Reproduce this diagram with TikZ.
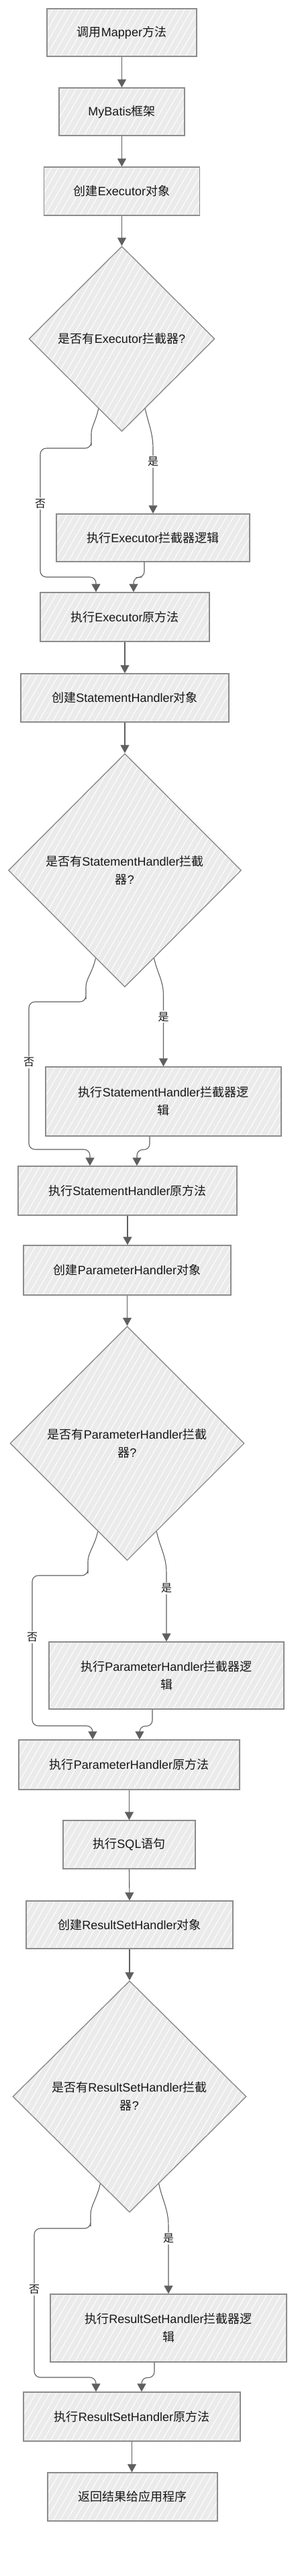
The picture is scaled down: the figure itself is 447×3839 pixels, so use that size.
\documentclass[tikz,border=0pt]{standalone}
\usepackage{fontspec}
\setmainfont{Liberation Sans}
\newfontfamily\cjk{Noto Sans CJK SC}
\usetikzlibrary{shapes.geometric,arrows.meta,calc,patterns.meta}
\newcommand\zh[1]{{\cjk #1}}
\definecolor{boxfill}{HTML}{EBEBEB}
\definecolor{bordergray}{HTML}{8C8C8C}
\definecolor{arrowgray}{HTML}{5F5F5F}
\definecolor{textcol}{HTML}{161616}
\begin{document}
\begin{tikzpicture}[x=1pt,y=-1pt,
  shapebase/.style={draw=bordergray, line width=1.4pt, preaction={fill=boxfill},
    pattern={Lines[angle=60,distance=9pt,line width=1pt]}, pattern color=white,
    inner sep=0pt, align=center, font=\fontsize{18}{27}\selectfont, text=textcol},
  box/.style={shapebase, rectangle},
  dia/.style={shapebase, diamond},
  arr/.style={draw=arrowgray, line width=1.1pt, -{Triangle[width=13pt,length=12pt]}},
  elbow/.style={arr, rounded corners=9pt},
  lbl/.style={fill=white, inner sep=2pt, font=\cjk\fontsize{16}{16}\selectfont, text=textcol}
]
\useasboundingbox[fill=white] (0,0) rectangle (447,3839);

% ---------- nodes ----------
\node[box, minimum width=223pt, minimum height=71pt] (b1) at (181.5,48.5) {\zh{调用}Mapper\zh{方法}};
\node[box, minimum width=187pt, minimum height=71pt] (b2) at (181.5,166.5) {MyBatis\zh{框架}};
\node[box, minimum width=232pt, minimum height=72pt] (b3) at (181.5,285) {\zh{创建}Executor\zh{对象}};
\node[dia, minimum width=277pt, minimum height=276pt] (d1) at (181.5,505) {\zh{是否有}Executor\zh{拦截器}?};
\node[box, minimum width=288pt, minimum height=71pt] (b4) at (228,801.5) {\zh{执行}Executor\zh{拦截器逻辑}};
\node[box, minimum width=252pt, minimum height=73pt] (b5) at (186,919.5) {\zh{执行}Executor\zh{原方法}};

\node[box, minimum width=310pt, minimum height=72pt] (b6) at (186,1040) {\zh{创建}StatementHandler\zh{对象}};
\node[dia, minimum width=347pt, minimum height=348pt] (d2) at (186,1297) {\zh{是否有}StatementHandler\zh{拦截}\\\zh{器}?};
\node[box, minimum width=351pt, minimum height=103pt] (b7) at (243.5,1641.5) {\zh{执行}StatementHandler\zh{拦截器逻}\\\zh{辑}};
\node[box, minimum width=326pt, minimum height=73pt] (b8) at (190,1774.5) {\zh{执行}StatementHandler\zh{原方法}};

\node[box, minimum width=309pt, minimum height=74pt] (b9) at (189.5,1893) {\zh{创建}ParameterHandler\zh{对象}};
\node[dia, minimum width=349pt, minimum height=349pt] (d3) at (189.5,2151) {\zh{是否有}ParameterHandler\zh{拦截}\\\zh{器}?};
\node[box, minimum width=350pt, minimum height=100pt] (b10) at (248,2497) {\zh{执行}ParameterHandler\zh{拦截器逻}\\\zh{辑}};
\node[box, minimum width=329pt, minimum height=74pt] (b11) at (192.5,2630) {\zh{执行}ParameterHandler\zh{原方法}};
\node[box, minimum width=197pt, minimum height=72pt] (b12) at (192.5,2749) {\zh{执行}SQL\zh{语句}};

\node[box, minimum width=308pt, minimum height=71pt] (b13) at (193,2868.5) {\zh{创建}ResultSetHandler\zh{对象}};
\node[dia, minimum width=348pt, minimum height=345pt] (d4) at (193,3124.5) {\zh{是否有}ResultSetHandler\zh{拦截}\\\zh{器}?};
\node[box, minimum width=352pt, minimum height=101pt] (b14) at (251,3469.5) {\zh{执行}ResultSetHandler\zh{拦截器逻}\\\zh{辑}};
\node[box, minimum width=323pt, minimum height=73pt] (b15) at (196.5,3601.5) {\zh{执行}ResultSetHandler\zh{原方法}};
\node[box, minimum width=253pt, minimum height=72pt] (b16) at (197.5,3721) {\zh{返回结果给应用程序}};

% ---------- straight connectors ----------
\draw[arr] (b1.south) -- (b2.north);
\draw[arr] (b2.south) -- (b3.north);
\draw[arr] (b3.south) -- (d1.north);
\draw[arr] (b5.south) -- (b6.north -| b5.south);
\draw[arr] (b6.south) -- (d2.north);
\draw[arr] (b8.south) -- (b9.north -| b8.south);
\draw[arr] (b9.south) -- (d3.north);
\draw[arr] (b11.south) -- (b12.north);
\draw[arr] (b12.south) -- (b13.north);
\draw[arr] (b13.south) -- (d4.north);
\draw[arr] (b15.south) -- (b16.north -| b15.south);

% ---------- decision 1 ----------
\coordinate (d1y) at ($(d1.south)!0.25!(d1.east)$);
\coordinate (d1n) at ($(d1.south)!0.25!(d1.west)$);
\draw[arr] (d1y) to[out=-78,in=90] ($(b4.north |- d1.south)+(0,25)$)
  -- node[lbl,pos=0.2] {是} (b4.north);
\draw[elbow] (d1n) to[out=-102,in=90] (136,655) -- (136,668) -- (60,668)
  -- node[lbl,pos=0.43] {否} (60,860) -- (143,860) -- (b5.north -| 143,0);
\draw[elbow] ($(b4.south)+(-13,0)$) -- ++(0,23) -- (199,860) -- (b5.north -| 199,0);

% ---------- decision 2 ----------
\coordinate (d2y) at ($(d2.south)!0.25!(d2.east)$);
\coordinate (d2n) at ($(d2.south)!0.25!(d2.west)$);
\draw[arr] (d2y) to[out=-78,in=90] ($(b7.north |- d2.south)+(0,12)$)
  -- node[lbl,pos=0.3] {是} (b7.north);
\draw[elbow] (d2n) to[out=-102,in=90] (128,1480) -- (128,1493) -- (43,1493)
  -- node[lbl,pos=0.41] {否} (43,1713) -- (134,1713) -- (b8.north -| 134,0);
\draw[elbow] ($(b7.south)+(-20.5,0)$) -- ++(0,20) -- (204,1713) -- (b8.north -| 204,0);

% ---------- decision 3 ----------
\coordinate (d3y) at ($(d3.south)!0.25!(d3.east)$);
\coordinate (d3n) at ($(d3.south)!0.25!(d3.west)$);
\draw[arr] (d3y) to[out=-78,in=90] ($(b10.north |- d3.south)+(0,18)$)
  -- node[lbl,pos=0.22] {是} (b10.north);
\draw[elbow] (d3n) to[out=-102,in=90] (131,2336) -- (131,2348) -- (48,2348)
  -- node[lbl,pos=0.41] {否} (48,2572) -- (138,2572) -- (b11.north -| 138,0);
\draw[elbow] ($(b10.south)+(-21,0)$) -- ++(0,25) -- (208,2572) -- (b11.north -| 208,0);

% ---------- decision 4 ----------
\coordinate (d4y) at ($(d4.south)!0.25!(d4.east)$);
\coordinate (d4n) at ($(d4.south)!0.25!(d4.west)$);
\draw[arr] (d4y) to[out=-78,in=90] ($(b14.north |- d4.south)+(0,20)$)
  -- node[lbl,pos=0.18] {是} (b14.north);
\draw[elbow] (d4n) to[out=-102,in=90] (135,3309) -- (135,3321) -- (51,3321)
  -- node[lbl,pos=0.41] {否} (51,3543) -- (143,3543) -- (b15.north -| 143,0);
\draw[elbow] ($(b14.south)+(-21,0)$) -- ++(0,23) -- (211,3543) -- (b15.north -| 211,0);
\end{tikzpicture}
\end{document}
